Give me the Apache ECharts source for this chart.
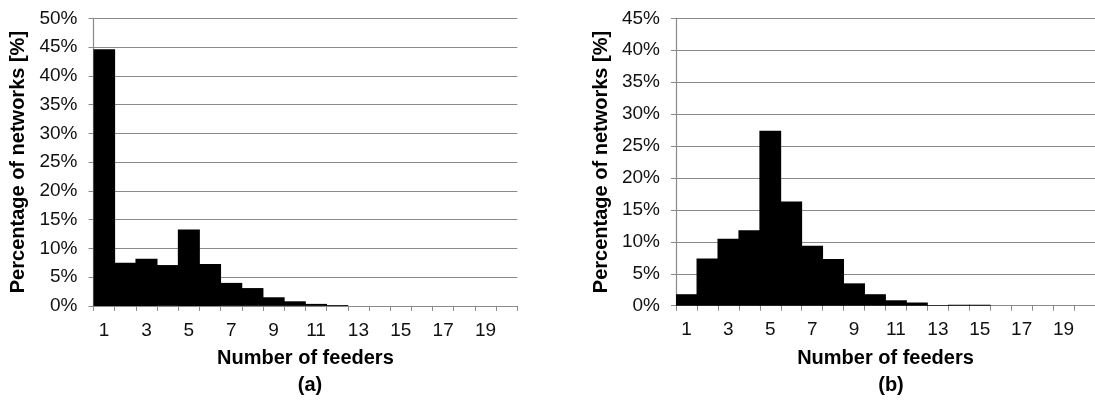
<!DOCTYPE html>
<html>
<head>
<meta charset="utf-8">
<script src="https://cdn.jsdelivr.net/npm/echarts@6/dist/echarts.min.js"></script>
<style>
html,body{margin:0;padding:0;background:#fff;}
#chart{width:1095px;height:403px;}
</style>
</head>
<body>
<div id="chart"></div>
<script>
const categories = ['1','2','3','4','5','6','7','8','9','10','11','12','13','14','15','16','17','18','19','20'];
const seriesA = [44.6, 7.5, 8.2, 7.1, 13.3, 7.3, 4.0, 3.1, 1.5, 0.8, 0.35, 0.15, 0, 0, 0, 0, 0, 0, 0, 0];
const seriesB = [1.8, 7.4, 10.5, 11.8, 27.4, 16.3, 9.4, 7.3, 3.5, 1.8, 0.85, 0.5, 0.1, 0.15, 0.15, 0, 0, 0, 0, 0];
const yMaxA = 50;
const yMaxB = 45;
const yInterval = 5;
const xTitle = 'Number of feeders';
const yTitle = 'Percentage of networks [%]';
const panelLabels = ['(a)', '(b)'];

const FONT = '"Liberation Sans", Arial, sans-serif';
const gridColor = '#8a8a8a';

function xAxisFor(gridIndex){
  return {
    type:'category', gridIndex, data:categories, boundaryGap:true,
    axisLine:{show:true, lineStyle:{color:gridColor, width:1.2}},
    axisTick:{show:true, interval:0, length:5, lineStyle:{color:gridColor}},
    axisLabel:{interval:1, color:'#111', fontFamily:FONT, fontSize:19, margin:15},
    name:xTitle, nameLocation:'middle', nameGap:43,
    nameTextStyle:{fontFamily:FONT, fontSize:20, fontWeight:'bold', color:'#000'},
    splitLine:{show:false}
  };
}
function yAxisFor(gridIndex, max){
  return {
    type:'value', gridIndex, min:0, max:max, interval:yInterval,
    axisLine:{show:true, lineStyle:{color:gridColor, width:1.2}},
    axisTick:{show:true, length:5, lineStyle:{color:gridColor}},
    axisLabel:{color:'#111', fontFamily:FONT, fontSize:19, margin:16, formatter: v => v + '%'},
    splitLine:{show:true, lineStyle:{color:gridColor, width:1.2}},
    name:yTitle, nameLocation:'middle', nameGap:65, nameRotate:90,
    nameTextStyle:{fontFamily:FONT, fontSize:20, fontWeight:'bold', color:'#000'}
  };
}

const chart = echarts.init(document.getElementById('chart'), null, {renderer:'canvas'});
chart.setOption({
  animation:false,
  backgroundColor:'#fff',
  title:[
    {text:panelLabels[0], left:305, top:370, textAlign:'center', textStyle:{fontFamily:FONT, fontSize:20, fontWeight:'bold', color:'#000'}},
    {text:panelLabels[1], left:886, top:370, textAlign:'center', textStyle:{fontFamily:FONT, fontSize:20, fontWeight:'bold', color:'#000'}}
  ],
  grid:[
    {left:93.5, top:18.3, width:423.8, height:287.6, containLabel:false},
    {left:676, top:18.3, width:420.6, height:287.4, containLabel:false}
  ],
  xAxis:[xAxisFor(0), xAxisFor(1)],
  yAxis:[yAxisFor(0, yMaxA), yAxisFor(1, yMaxB)],
  series:[
    {type:'bar', xAxisIndex:0, yAxisIndex:0, data:seriesA, barWidth:'104%', itemStyle:{color:'#000'}},
    {type:'bar', xAxisIndex:1, yAxisIndex:1, data:seriesB, barWidth:'104%', itemStyle:{color:'#000'}}
  ]
});
</script>
</body>
</html>
